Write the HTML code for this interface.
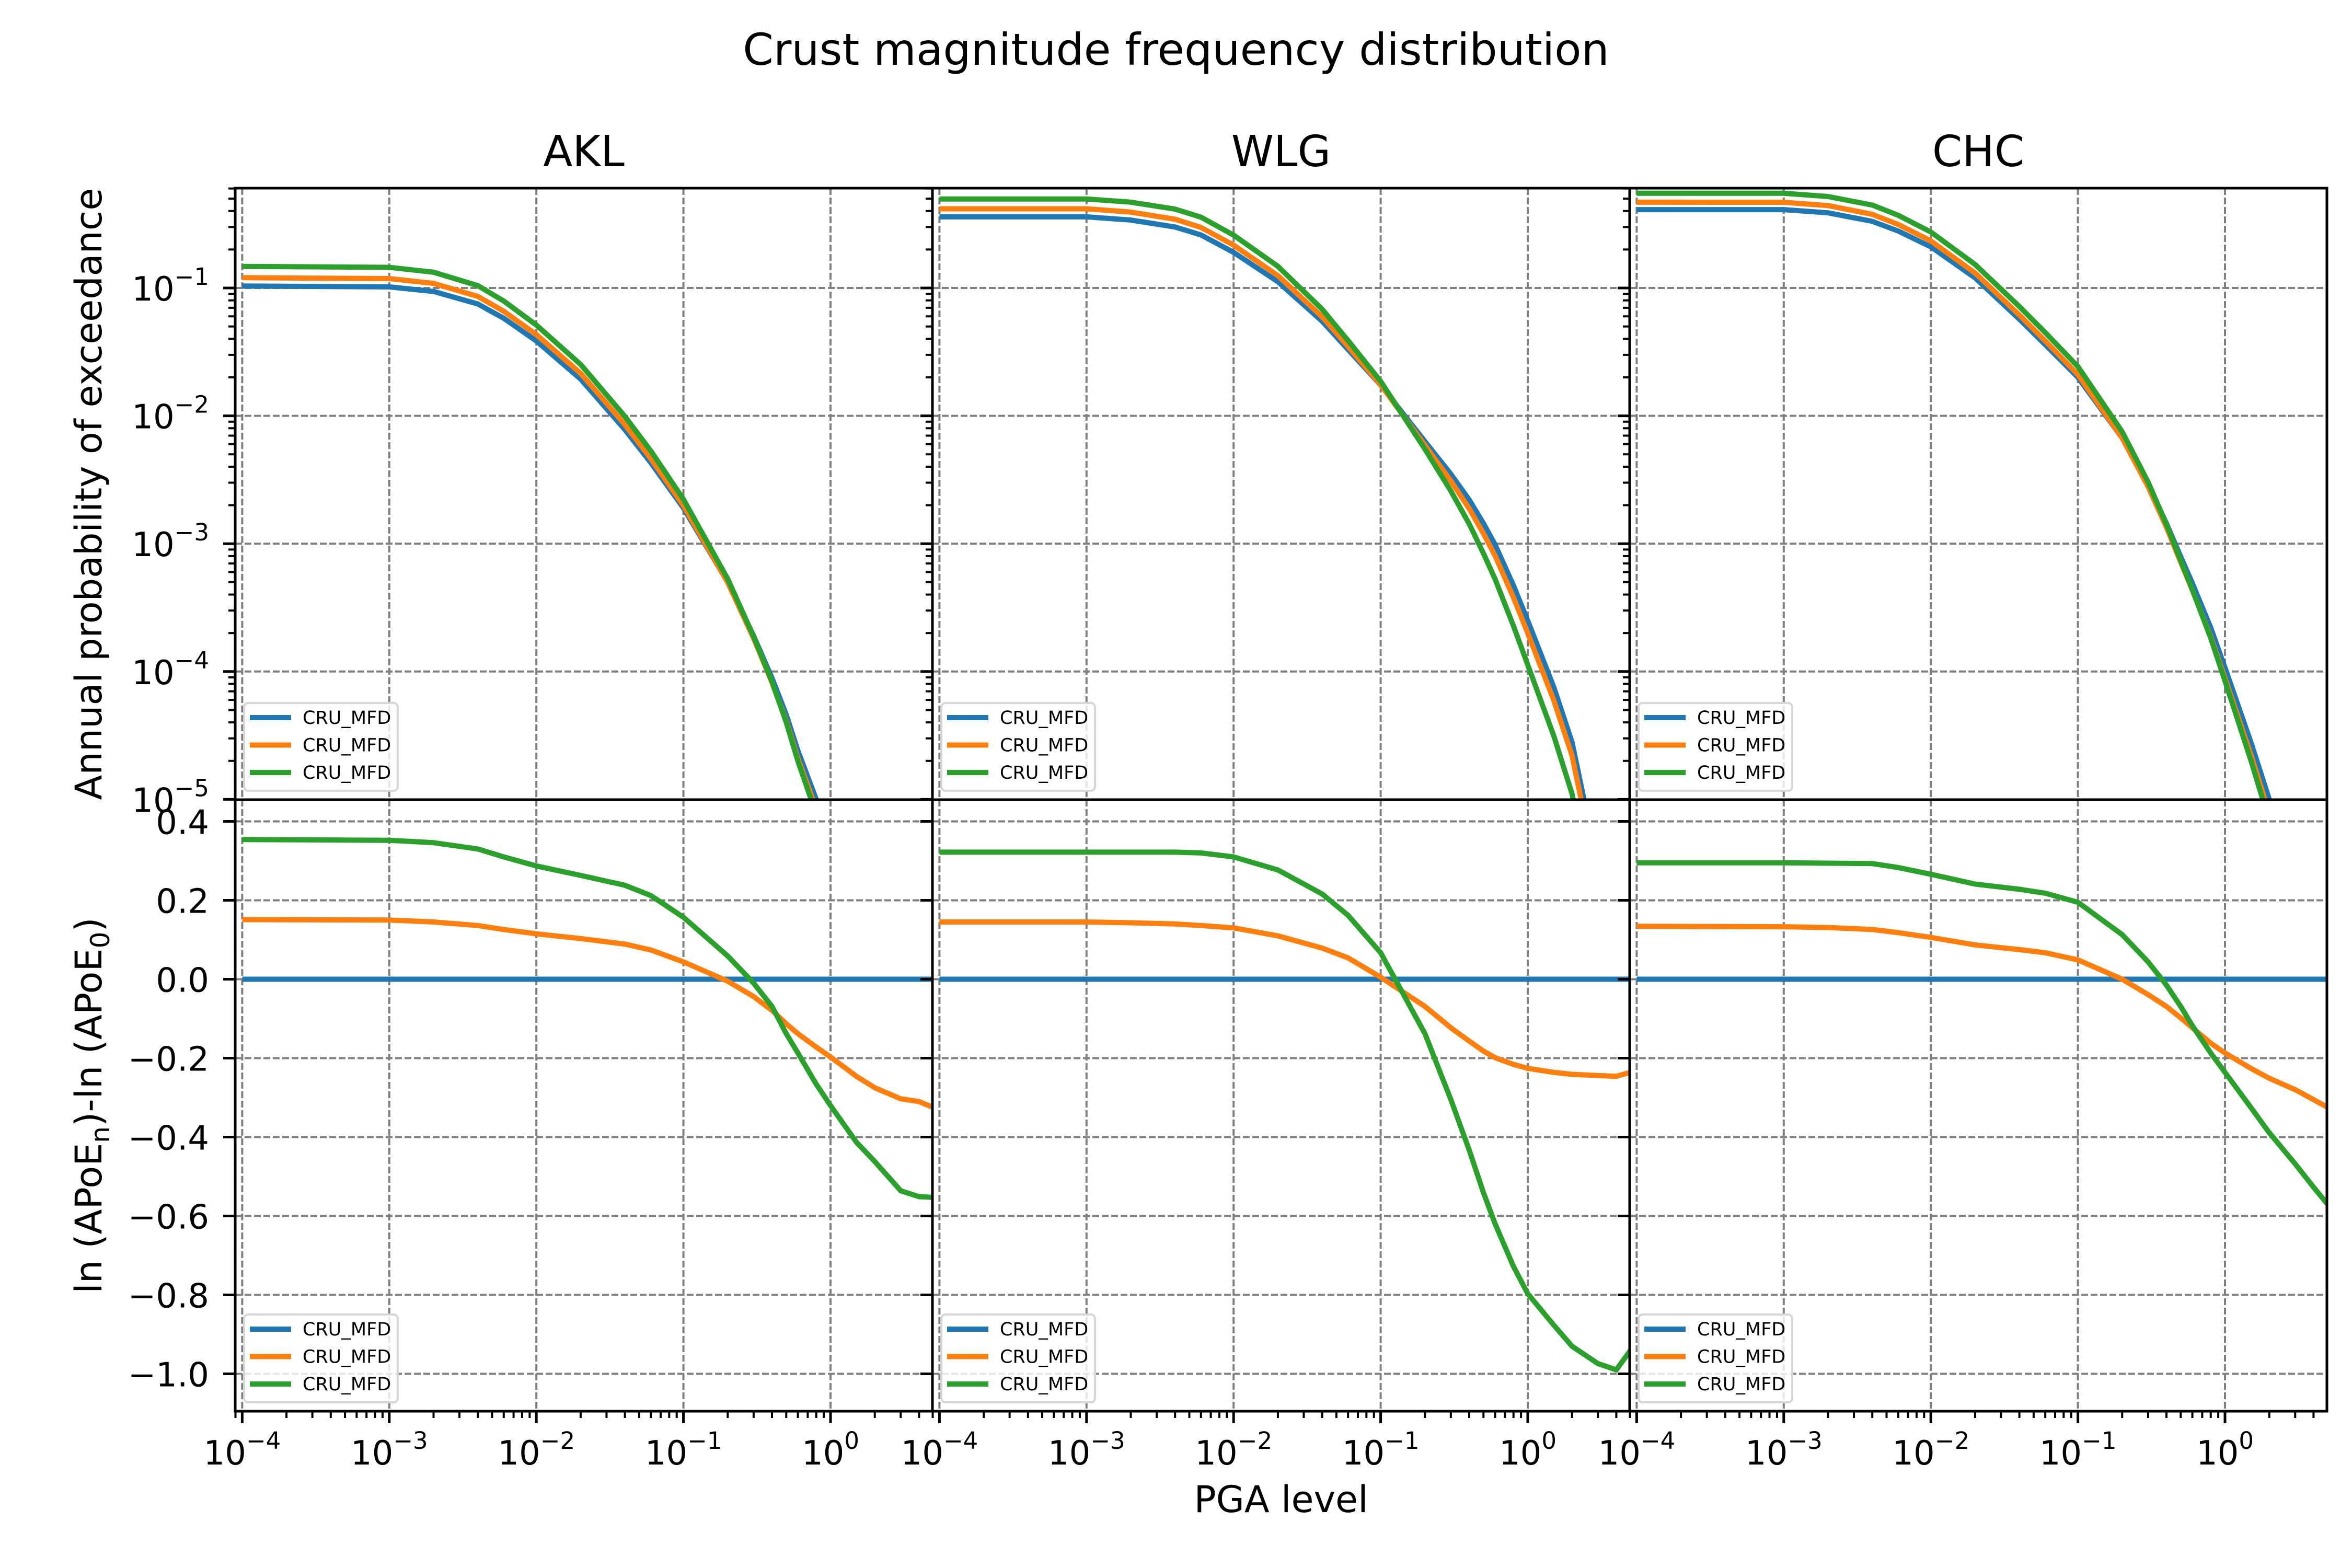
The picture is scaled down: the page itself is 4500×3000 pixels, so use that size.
<!DOCTYPE html>
<html><head><meta charset="utf-8"><style>
html,body{margin:0;padding:0;background:#fff}
svg{display:block}
text{font-family:"DejaVu Sans","Liberation Sans",sans-serif;fill:#000}
</style></head><body>
<svg id="fig" xmlns="http://www.w3.org/2000/svg" width="4500" height="3000" viewBox="0 0 4500 3000">
<rect width="4500" height="3000" fill="#fff"/>
<text x="2250" y="124" font-size="84" text-anchor="middle">Crust magnitude frequency distribution</text>
<text x="2451" y="2893" font-size="70" text-anchor="middle">PGA level</text>
<text transform="translate(194,945) rotate(-90)" font-size="70" text-anchor="middle">Annual probability of exceedance</text>
<text transform="translate(194,2115) rotate(-90)" font-size="70" text-anchor="middle">ln (APoE<tspan font-size="50" dy="15">n</tspan><tspan dy="-15">)-ln (APoE</tspan><tspan font-size="50" dy="15">0</tspan><tspan dy="-15">)</tspan></text>
<g id="plots"></g>
</svg>
<script>
// ---- data ----
const sites = ["AKL", "WLG", "CHC"];
const pgaLevels = [1e-4, 1e-3, 2e-3, 4e-3, 6e-3, 1e-2, 2e-2, 4e-2, 6e-2, 0.1, 0.2, 0.3, 0.4, 0.5, 0.6, 0.8, 1.0, 1.5, 2, 3, 4, 5];
const aklBase = [0.1035, 0.102, 0.094, 0.075, 0.058, 0.0385, 0.0194, 0.0078, 0.0043, 0.0019, 5.0e-4, 1.9e-4, 8.9e-5, 4.6e-5, 2.4e-5, 1e-5, 4e-6, 8e-7, 2e-7, 2e-8, 3e-9, 1e-9];
const wlgBase = [0.36, 0.36, 0.34, 0.30, 0.26, 0.19, 0.112, 0.055, 0.033, 0.0174, 0.0063, 0.0035, 0.0022, 0.00144, 0.00098, 4.7e-4, 2.5e-4, 7.6e-5, 2.8e-5, 3e-6, 6e-7, 2e-7];
const chcBase = [0.41, 0.41, 0.387, 0.332, 0.279, 0.21, 0.12, 0.057, 0.036, 0.02, 0.0067, 0.0029, 0.00144, 7.9e-4, 4.9e-4, 2.2e-4, 1.07e-4, 2.8e-5, 1e-5, 1.5e-6, 2e-7, 5e-8];
const aklRatio1 = [0.151, 0.15, 0.145, 0.136, 0.126, 0.115, 0.103, 0.089, 0.074, 0.044, -0.005, -0.044, -0.079, -0.113, -0.138, -0.172, -0.197, -0.246, -0.275, -0.303, -0.31, -0.325];
const aklRatio2 = [0.354, 0.352, 0.346, 0.33, 0.31, 0.287, 0.263, 0.238, 0.212, 0.157, 0.059, -0.01, -0.069, -0.138, -0.187, -0.266, -0.32, -0.413, -0.462, -0.536, -0.551, -0.553];
const wlgRatio1 = [0.145, 0.145, 0.143, 0.14, 0.136, 0.13, 0.11, 0.079, 0.054, 0.005, -0.069, -0.123, -0.157, -0.182, -0.199, -0.216, -0.226, -0.236, -0.241, -0.244, -0.246, -0.236];
const wlgRatio2 = [0.322, 0.322, 0.322, 0.322, 0.32, 0.31, 0.277, 0.216, 0.162, 0.067, -0.138, -0.305, -0.433, -0.541, -0.62, -0.728, -0.797, -0.876, -0.93, -0.974, -0.99, -0.94];
const chcRatio1 = [0.134, 0.133, 0.131, 0.126, 0.118, 0.106, 0.087, 0.075, 0.067, 0.049, 0.0, -0.039, -0.069, -0.098, -0.123, -0.162, -0.187, -0.226, -0.251, -0.28, -0.305, -0.325];
const chcRatio2 = [0.295, 0.295, 0.294, 0.293, 0.283, 0.266, 0.241, 0.228, 0.218, 0.195, 0.113, 0.044, -0.015, -0.069, -0.118, -0.187, -0.236, -0.325, -0.389, -0.468, -0.527, -0.571];
const legendLabels = ["CRU_MFD", "CRU_MFD", "CRU_MFD"];
const yTopTicks = [-1, -2, -3, -4, -5];
const yBotTicks = [0.4, 0.2, 0.0, -0.2, -0.4, -0.6, -0.8, -1.0];
const xTicks = [-4, -3, -2, -1, 0];

const baseSets = [aklBase, wlgBase, chcBase];
const ratioSets = [[aklRatio1, aklRatio2], [wlgRatio1, wlgRatio2], [chcRatio1, chcRatio2]];
const colors = ["#1f77b4", "#ff7f0e", "#2ca02c"];

// ---- geometry ----
const NS = "http://www.w3.org/2000/svg";
const PX = [450, 1784, 3118], PW = 1334;
const TOP0 = 360, MID = 1530, BOT1 = 2700;
const LOGMIN = -4.0476, DEC = 281.4;
function xs(i, v) { return PX[i] + (Math.log10(v) - LOGMIN) * DEC; }
function xsLog(i, l) { return PX[i] + (l - LOGMIN) * DEC; }
function ysTop(v) { return 551 + (-1 - Math.log10(v)) * 244.6; }
function ysTopLog(l) { return 551 + (-1 - l) * 244.6; }
function ysBot(v) { return 1873.5 - v * 755; }

const root = document.getElementById("plots");
function el(tag, attrs, parent) {
  const e = document.createElementNS(NS, tag);
  for (const k in attrs) e.setAttribute(k, attrs[k]);
  (parent || root).appendChild(e);
  return e;
}
function fmt(n) { return n.toFixed(1); }
function sup10(parent, x, y, exp, anchor, name) {
  const t = el("text", {x: x, y: y, "font-size": 64, "text-anchor": anchor}, parent);
  
  
  t.appendChild(document.createTextNode("10"));
  const s = el("tspan", {"font-size": 45, dy: -30}, t);
  s.textContent = "\u2212" + Math.abs(exp);
  if (exp === 0) s.textContent = "0";
  return t;
}

const defs = el("defs", {});
for (let i = 0; i < 3; i++) {
  const c1 = el("clipPath", {id: "ct" + i}, defs);
  el("rect", {x: PX[i], y: TOP0, width: PW, height: MID - TOP0}, c1);
  const c2 = el("clipPath", {id: "cb" + i}, defs);
  el("rect", {x: PX[i], y: MID, width: PW, height: BOT1 - MID}, c2);
}

for (let i = 0; i < 3; i++) {
  const x0 = PX[i], x1 = PX[i] + PW;
  const site = sites[i];
  const g = el("g", {});
  
  

  const tt = el("text", {x: x0 + PW / 2, y: 318, "font-size": 82, "text-anchor": "middle"}, g);
  
  
  tt.textContent = site;

  const grid = el("g", {stroke: "#808080", "stroke-width": 4, "stroke-dasharray": "13,5", fill: "none"}, g);
  
  
  for (const l of xTicks) {
    const x = xsLog(i, l);
    el("line", {x1: x, x2: x, y1: TOP0, y2: MID}, grid);
    el("line", {x1: x, x2: x, y1: MID, y2: BOT1}, grid);
  }
  for (const l of yTopTicks) { const y = ysTopLog(l); if (y < MID - 3) el("line", {x1: x0, x2: x1, y1: y, y2: y}, grid); }
  for (const v of yBotTicks) { const y = ysBot(v); el("line", {x1: x0, x2: x1, y1: y, y2: y}, grid); }

  const base = baseSets[i];
  const ratios = ratioSets[i];
  const topSeries = [base, base.map((b, k) => b * Math.exp(ratios[0][k])), base.map((b, k) => b * Math.exp(ratios[1][k]))];
  const botSeries = [pgaLevels.map(() => 0), ratios[0], ratios[1]];
  const gt = el("g", {"clip-path": "url(#ct" + i + ")"}, g);
  const gb = el("g", {"clip-path": "url(#cb" + i + ")"}, g);
  for (let s = 0; s < 3; s++) {
    const dt = pgaLevels.map((p, k) => (k ? "L" : "M") + fmt(xs(i, p)) + "," + fmt(ysTop(topSeries[s][k]))).join("");
    const pt = el("path", {d: dt, fill: "none", stroke: colors[s], "stroke-width": 10, "stroke-linejoin": "round"}, gt);
    
    
    const db = pgaLevels.map((p, k) => (k ? "L" : "M") + fmt(xs(i, p)) + "," + fmt(ysBot(botSeries[s][k]))).join("");
    const pb = el("path", {d: db, fill: "none", stroke: colors[s], "stroke-width": 10, "stroke-linejoin": "round"}, gb);
    
    
  }

  for (const [yb, nm] of [[MID, "top"], [BOT1, "bottom"]]) {
    const lg = el("g", {}, g);
    
    
    el("rect", {x: x0 + 17, y: yb - 185, width: 294, height: 168, rx: 8, fill: "#fff", "fill-opacity": 0.8, stroke: "#d6d6d6", "stroke-width": 4}, lg);
    for (let s = 0; s < 3; s++) {
      const yy = yb - 157 + s * 52.5;
      el("line", {x1: x0 + 28, x2: x0 + 107, y1: yy, y2: yy, stroke: colors[s], "stroke-width": 10}, lg);
      const lt = el("text", {x: x0 + 129, y: yy + 12, "font-size": 35}, lg);
      
      
      lt.textContent = legendLabels[s];
    }
  }

  const tk = el("g", {stroke: "#000", "stroke-width": 5}, g);
  for (let d = -5; d <= -1; d++) {
    for (let m = 1; m <= 9; m++) {
      const l = d + Math.log10(m);
      const y = ysTopLog(l);
      if (y < TOP0 - 1 || y > MID + 1) continue;
      el("line", {x1: x0, x2: x0 - (m === 1 ? 23 : 13), y1: y, y2: y, "stroke-width": m === 1 ? 5 : 4}, tk);
    }
  }
  for (const v of yBotTicks) { const y = ysBot(v); el("line", {x1: x0, x2: x0 - 23, y1: y, y2: y}, tk); }
  for (let d = -5; d <= 0; d++) {
    for (let m = 1; m <= 9; m++) {
      const l = d + Math.log10(m);
      const x = xsLog(i, l);
      if (x < x0 - 1 || x > x1 + 1) continue;
      el("line", {x1: x, x2: x, y1: BOT1, y2: BOT1 + (m === 1 ? 23 : 13), "stroke-width": m === 1 ? 5 : 4}, tk);
    }
  }
  for (const l of xTicks) sup10(g, xsLog(i, l), 2802, l, "middle", "x-tick-label");

  el("rect", {x: x0, y: TOP0, width: PW, height: MID - TOP0, fill: "none", stroke: "#000", "stroke-width": 5}, g);
  el("rect", {x: x0, y: MID, width: PW, height: BOT1 - MID, fill: "none", stroke: "#000", "stroke-width": 5}, g);
}

for (const l of yTopTicks) sup10(root, 400, ysTopLog(l) + 24, l, "end", "y-tick-label-top");
for (const v of yBotTicks) {
  const t = el("text", {x: 400, y: ysBot(v) + 24, "font-size": 64, "text-anchor": "end"});
  
  
  t.textContent = (v < 0 ? "\u2212" : "") + Math.abs(v).toFixed(1);
}
</script>
</body></html>
